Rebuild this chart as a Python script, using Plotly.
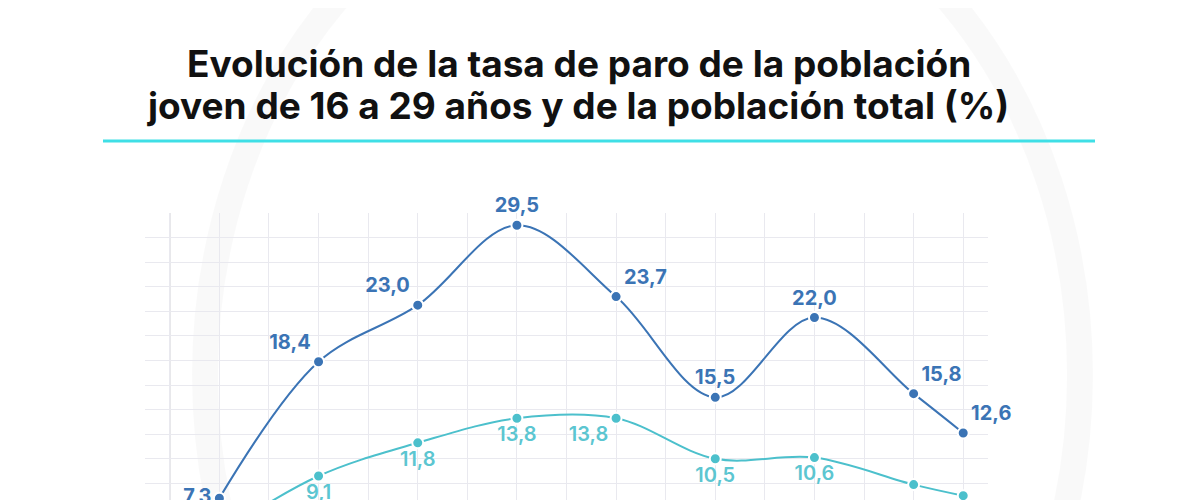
import plotly.graph_objects as go

# Tasa de paro (%), población joven 16-29 y población total
years = [2008, 2010, 2012, 2014, 2016, 2018, 2020, 2022, 2023]
paro_joven = [7.3, 18.4, 23.0, 29.5, 23.7, 15.5, 22.0, 15.8, 12.6]
paro_total = [4.4, 9.1, 11.8, 13.8, 13.8, 10.5, 10.6, 8.4, 7.5]
# labels of the total series that are legible in the picture
label_total = [False, True, True, True, True, True, True, False, False]

title_lines = [
    "Evolución de la tasa de paro de la población",
    "joven de 16 a 29 años y de la población total (%)",
]

BLUE = "#3b74b5"
CYAN = "#4cc0cc"

# the page adds an 8px body margin, so the figure is drawn 8px in
W, H = 1192, 492
PLOT_TOP, PLOT_LEFT, PLOT_RIGHT = 205, 137, 980
PLOT_H = H - PLOT_TOP
PLOT_W = PLOT_RIGHT - PLOT_LEFT


def px_x(page_x):
    return (page_x - 8 - PLOT_LEFT) / PLOT_W


def px_y(page_y):
    return (H - (page_y - 8)) / PLOT_H


def fmt(v):
    return f"{v:.1f}".replace(".", ",")


pos_joven = ["middle left", "top left", "top left", "top center", "top right",
             "top center", "top center", "top right", "top right"]
pos_total = ["bottom center", "bottom center", "bottom center", "bottom center",
             "bottom left", "bottom center", "bottom center", "bottom center",
             "bottom center"]

fig = go.Figure()

fig.add_trace(go.Scatter(
    x=years, y=paro_total, name="Población total",
    mode="lines+markers+text",
    line=dict(color=CYAN, width=2, shape="spline", smoothing=1.0),
    marker=dict(color=CYAN, size=11, line=dict(color="white", width=2)),
    text=[fmt(v) if show else "" for v, show in zip(paro_total, label_total)],
    textposition=pos_total,
    textfont=dict(family="Inter", size=20, color="#5cc6d1", weight=600),
    cliponaxis=False,
))
fig.add_trace(go.Scatter(
    x=years, y=paro_joven, name="Población joven 16-29",
    mode="lines+markers+text",
    line=dict(color=BLUE, width=2, shape="spline", smoothing=1.0),
    marker=dict(color=BLUE, size=11, line=dict(color="white", width=2)),
    text=[fmt(v) for v in paro_joven], textposition=pos_joven,
    textfont=dict(family="Inter", size=20, color=BLUE, weight=700),
    cliponaxis=False,
))

title_font = dict(family="Inter", size=37, color="#111111", weight=700)
annotations = [
    dict(text=title_lines[0], x=px_x(579), y=px_y(63), xref="paper", yref="paper",
         xanchor="center", yanchor="middle", showarrow=False, font=title_font),
    dict(text=title_lines[1], x=px_x(578), y=px_y(106), xref="paper", yref="paper",
         xanchor="center", yanchor="middle", showarrow=False, font=title_font),
]

fig.update_layout(
    width=W, height=H,
    margin=dict(l=PLOT_LEFT, r=W - PLOT_RIGHT, t=PLOT_TOP, b=0),
    paper_bgcolor="white", plot_bgcolor="rgba(0,0,0,0)",
    showlegend=False,
    annotations=annotations,
    xaxis=dict(
        range=[2006.5, 2023.5], tick0=2007, dtick=1,
        showgrid=True, gridcolor="#e9e9ef", gridwidth=1,
        showticklabels=False, zeroline=False, showline=False, fixedrange=True,
    ),
    yaxis=dict(
        range=[30.5 - PLOT_H / 12.29, 30.5], tick0=0.5, dtick=2,
        showgrid=True, gridcolor="#e9e9ef", gridwidth=1,
        showticklabels=False, zeroline=False, showline=False, fixedrange=True,
    ),
    shapes=[
        # soft background arc
        dict(type="circle", xref="paper", yref="paper", layer="below",
             x0=px_x(205), x1=px_x(1080), y0=px_y(900), y1=px_y(-150),
             line=dict(color="rgba(0,0,0,0.022)", width=26)),
        # cyan rule under the title
        dict(type="line", xref="paper", yref="paper",
             x0=px_x(103), x1=px_x(1095), y0=px_y(141), y1=px_y(141),
             line=dict(color="#3fdfe6", width=3)),
        # darker vertical axis line
        dict(type="line", xref="x", yref="paper", x0=2007, x1=2007, y0=0, y1=1,
             line=dict(color="#d4d4da", width=1.5), layer="below"),
    ],
)

fig.write_html("out.html")
